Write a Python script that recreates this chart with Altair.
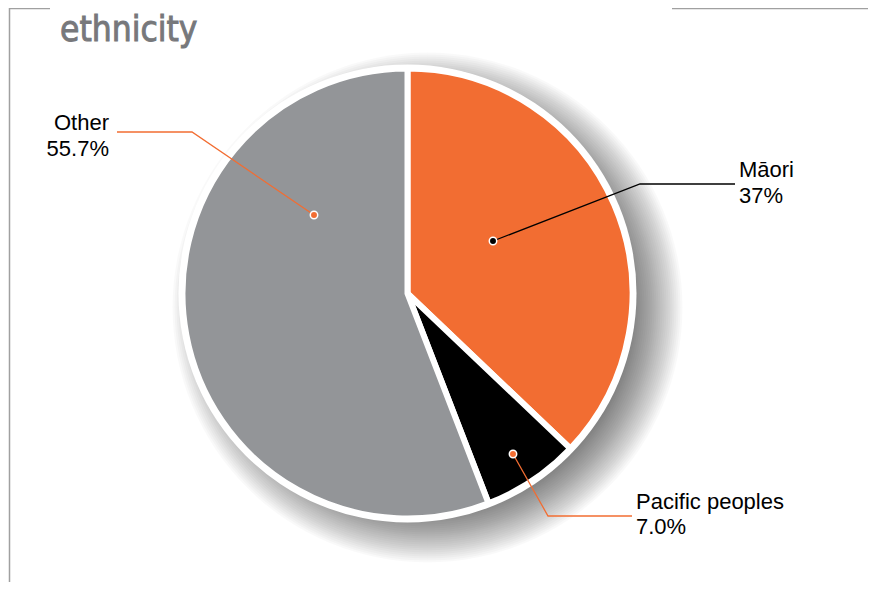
import math
import altair as alt
import pandas as pd

# ---- data ----
groups = ["Māori", "Pacific peoples", "Other"]
values = [37.0, 7.0, 55.7]
pct_labels = ["37%", "7.0%", "55.7%"]
slice_colors = ["#F26D32", "#000000", "#939598"]
leader_colors = ["#000000", "#F26D32", "#F26D32"]
title_text = "ethnicity"

# ---- layout (chart pixel coords; page = chart + 8) ----
W, H = 860, 574
CX, CY = 399.5, 285.5
R = 225
R_RIM = 229
SHADOW_DX, SHADOW_DY = 20, 14
shadow_radii = list(range(255, 203, -2))

# label anchors: x, first baseline, second baseline, align
label_x = [731, 628, 101]
label_y1 = [169, 501, 122]
label_y2 = [195, 526, 148]
label_align = ["left", "left", "right"]
# leader points: dot, elbow, end
leader_pts = [
    [(485, 233), (632, 176), (727, 176)],
    [(505, 446), (540, 508), (624, 508)],
    [(306, 207), (184, 124), (109, 124)],
]

df = pd.DataFrame({"group": groups, "value": values, "order": list(range(len(groups)))})
color_scale = alt.Scale(domain=groups, range=slice_colors)

# shadow rings
shadow_df = pd.DataFrame({"r": shadow_radii})
shadow = alt.Chart(shadow_df).mark_arc(theta=0, theta2=2 * math.pi, color="black", opacity=0.025).encode(
    x=alt.value(CX + SHADOW_DX), y=alt.value(CY + SHADOW_DY),
    radius=alt.Radius("r:Q", scale=None, stack=None),
)
rim = alt.Chart(pd.DataFrame({"r": [R_RIM]})).mark_arc(theta=0, theta2=2 * math.pi, color="white").encode(
    x=alt.value(CX), y=alt.value(CY), radius=alt.Radius("r:Q", scale=None, stack=None),
)
pie = alt.Chart(df).mark_arc(outerRadius=R, stroke="white", strokeWidth=6).encode(
    theta=alt.Theta("value:Q", stack=True),
    color=alt.Color("group:N", scale=color_scale, legend=None),
    order=alt.Order("order:Q"),
    x=alt.value(CX), y=alt.value(CY),
)

# leader lines
rows = []
for g, c, pts in zip(groups, leader_colors, leader_pts):
    for i, (px, py) in enumerate(pts):
        rows.append({"group": g, "lc": c, "i": i, "px": px, "py": py})
lead_df = pd.DataFrame(rows)
lines = alt.Chart(lead_df).mark_line(strokeWidth=1.3).encode(
    x=alt.X("px:Q", scale=None), y=alt.Y("py:Q", scale=None),
    detail="group:N", order="i:Q",
    stroke=alt.Stroke("lc:N", scale=None),
)
dots = alt.Chart(lead_df[lead_df.i == 0]).mark_point(
    filled=True, size=55, stroke="white", strokeWidth=1.5, opacity=1, strokeOpacity=1
).encode(
    x=alt.X("px:Q", scale=None), y=alt.Y("py:Q", scale=None),
    fill=alt.Fill("lc:N", scale=None),
)

# labels
lab_rows = []
for g, p, x, y1, y2, a in zip(groups, pct_labels, label_x, label_y1, label_y2, label_align):
    lab_rows.append({"t": g, "x": x, "y": y1, "a": a})
    lab_rows.append({"t": p, "x": x, "y": y2, "a": a})
lab_df = pd.DataFrame(lab_rows)
texts_left = alt.Chart(lab_df[lab_df.a == "left"]).mark_text(
    align="left", baseline="alphabetic", fontSize=22, font="Liberation Sans", color="#000"
).encode(x=alt.X("x:Q", scale=None), y=alt.Y("y:Q", scale=None), text="t:N")
texts_right = alt.Chart(lab_df[lab_df.a == "right"]).mark_text(
    align="right", baseline="alphabetic", fontSize=22, font="Liberation Sans", color="#000"
).encode(x=alt.X("x:Q", scale=None), y=alt.Y("y:Q", scale=None), text="t:N")

# title
title = alt.Chart(pd.DataFrame({"t": [title_text]})).mark_text(
    align="left", baseline="alphabetic", fontSize=35, font="DejaVu Sans Condensed",
    fontWeight="normal", color="#77787b", stroke="#77787b", strokeWidth=0.9
).encode(x=alt.value(52), y=alt.value(33), text="t:N")

# frame
frame_df = pd.DataFrame({
    "x": [1.5, 1, 664], "x2": [1.5, 42, 860],
    "y": [0, 0.5, 0.5], "y2": [574, 0.5, 0.5],
})
frame = alt.Chart(frame_df).mark_rule(color="#a0a0a0", strokeWidth=1.5).encode(
    x=alt.X("x:Q", scale=None), x2="x2", y=alt.Y("y:Q", scale=None), y2="y2",
)

chart = alt.layer(frame, title, shadow, rim, pie, lines, dots, texts_left, texts_right).properties(
    width=W, height=H, padding=0, autosize=alt.AutoSizeParams(type="none"), background="white"
).configure_view(stroke=None)

chart.save("out.html", embed_options={"renderer": "svg", "actions": False})
